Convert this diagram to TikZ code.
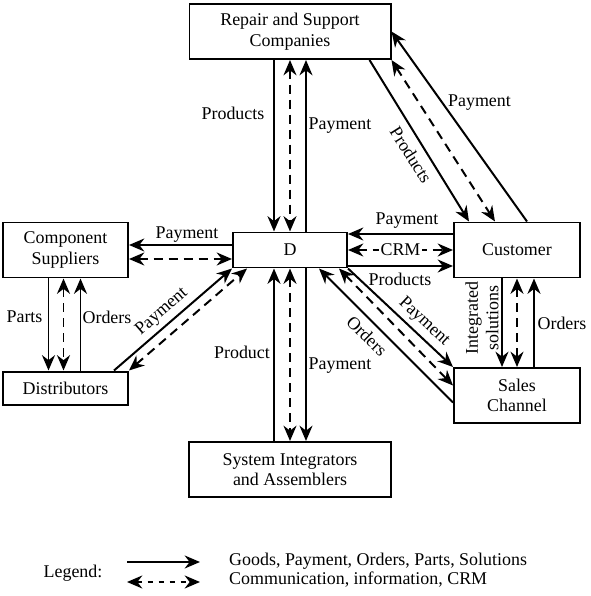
\documentclass[tikz,border=0pt]{standalone}
\usepackage{fontspec}
\setmainfont{Liberation Serif}
\usetikzlibrary{calc,arrows.meta}

\tikzset{
  box/.style={draw, line width=1.7pt, align=center, inner sep=0pt},
  flow/.style={line width=1.7pt, -{Stealth[length=4.6mm,width=3.9mm,inset=1.5mm]}},
  info/.style={line width=1.7pt, dash pattern=on 2.7mm off 1.8mm,
    {Stealth[length=4.6mm,width=3.9mm,inset=1.5mm]}-{Stealth[length=4.6mm,width=3.9mm,inset=1.5mm]}},
  lbl/.style={inner sep=0pt}
}

\begin{document}
\begin{tikzpicture}[x=0.3mm, y=-0.3mm, font=\fontsize{15.3}{17.6}\selectfont]
		%%%%% START %%%%%
		\useasboundingbox (0,0) rectangle (590,596);
		
		\node[box, minimum width=60.3mm, minimum height=16.5mm] (rsc) at (290,31.5) {Repair and Support\\Companies};
		\node[box, minimum width=37.5mm, minimum height=16.5mm] (cs) at (65.5,250) {Component\\Suppliers};
		\node[box, minimum width=34.2mm, minimum height=10.5mm] (D) at (290,250) {D};
		\node[box, minimum width=37.8mm, minimum height=16.5mm] (cust) at (517,250) {Customer};
		\node[box, minimum width=37.5mm, minimum height=9.9mm] (dist) at (65.5,388) {Distributors};
		\node[box, minimum width=37.8mm, minimum height=16.5mm] (sales) at (517,395.5) {Sales\\Channel};
		\node[box, minimum width=60.6mm, minimum height=16.5mm] (sia) at (290,469.5) {System Integrators\\and Assemblers};
		
		% repair <-> D
		\draw[flow] ($(rsc.south)+(-16,0)$) -- ($(D.north)+(-16,0)$);
		\draw[info] (rsc.south) -- (D.north);
		\draw[flow] ($(D.north)+(16,0)$) -- ($(rsc.south)+(16,0)$);
		\node[lbl] (lProdTop) at (233,113) {Products};
		\node[lbl] (lPayTop) at (340,126) {Payment};
		
		% D <-> system integrators
		\draw[flow] ($(sia.north)+(-16,0)$) -- ($(D.south)+(-16,0)$);
		\draw[info] (D.south) -- (sia.north);
		\draw[flow] ($(D.south)+(16,0)$) -- ($(sia.north)+(16,0)$);
		\node[lbl] (lProdBot) at (242,352) {Product};
		\node[lbl] (lPayBot) at (340,366) {Payment};
		
		% D <-> component suppliers
		\draw[flow] ($(D.west)+(0,-5)$) -- ($(cs.east)+(0,-5)$);
		\draw[info] ($(cs.east)+(0,9)$) -- ($(D.west)+(0,9)$);
		\node[lbl] (lPayCS) at (187,235) {Payment};
		
		% component suppliers <-> distributors
		\draw[flow] ($(cs.south)+(-17,0)$) -- ($(dist.north)+(-17,0)$);
		\draw[info] ($(cs.south)+(-2,0)$) -- ($(dist.north)+(-2,0)$);
		\draw[flow] ($(dist.north)+(15,0)$) -- ($(cs.south)+(15,0)$);
		\node[lbl] (lParts) at (24.5,317) {Parts};
		\node[lbl] (lOrdCS) at (107,317) {Orders};
		
		% distributors <-> D
		\draw[flow] ($(dist.north east)+(-15,0)$) -- (D.south west);
		\draw[info] (dist.north east) -- ($(D.south west)+(15,0)$);
		\node[lbl, rotate=41] (lPayDist) at (162,312) {Payment};
		
		% D <-> customer
		\draw[flow] ($(cust.west)+(0,-16)$) -- ($(D.east)+(0,-16)$);
		\draw[info] (D.east) -- (cust.west) node[midway, fill=white, inner sep=1.5pt] (crm) {CRM};
		\draw[flow] ($(D.east)+(0,16)$) -- ($(cust.west)+(0,16)$);
		\node[lbl] (lPayCust) at (407,221) {Payment};
		\node[lbl] (lProdCust) at (400,279) {Products};
		
		% D <-> sales channel
		\draw[flow] (D.south east) -- (sales.north west);
		\draw[info] ($(D.south east)+(-9,0)$) -- ($(sales.west)+(0,-10)$);
		\draw[flow] ($(sales.west)+(0,7)$) -- ($(D.south east)+(-29,0)$);
		\node[lbl, rotate=-43] (lPaySC) at (424,322) {Payment};
		\node[lbl, rotate=-44.6] (lOrdSC) at (367,336) {Orders};
		
		% repair <-> customer
		\draw[flow] ($(rsc.south east)+(-22,0)$) -- ($(cust.north west)+(16,0)$);
		\draw[info] (rsc.south east) -- ($(cust.north)+(-22,0)$);
		\draw[flow] ($(cust.north)+(10,0)$) -- (rsc.east);
		\node[lbl, rotate=-57.7] (lProdRC) at (411,155) {Products};
		\node[lbl] (lPayRC) at (479.5,103) {Payment};
		
		% customer <-> sales channel
		\draw[flow] ($(cust.south)+(-15,0)$) -- ($(sales.north)+(-15,0)$);
		\draw[info] (cust.south) -- (sales.north);
		\draw[flow] ($(sales.north)+(17,0)$) -- ($(cust.south)+(17,0)$);
		\node[lbl, rotate=90, align=center] (lIntSol) at (482,318) {Integrated\\solutions};
		\node[lbl] (lOrdCust) at (562,323) {Orders};
		
		% legend
		\node[lbl] (legend) at (73,573) {Legend:};
		\coordinate (gA) at (127,562);
		\coordinate (gB) at (200,562);
		\draw[flow] (gA) -- (gB);
		\coordinate (cA) at (127,582);
		\coordinate (cB) at (200,582);
		\draw[info, dash pattern=on 1.5mm off 1.8mm] (cA) -- (cB);
		\node[lbl, anchor=west] (lGoods) at (229,561) {Goods, Payment, Orders, Parts, Solutions};
		\node[lbl, anchor=west] (lComm) at (229,580) {Communication, information, CRM};
		
		%%%%% END %%%%%
\end{tikzpicture}
\end{document}
